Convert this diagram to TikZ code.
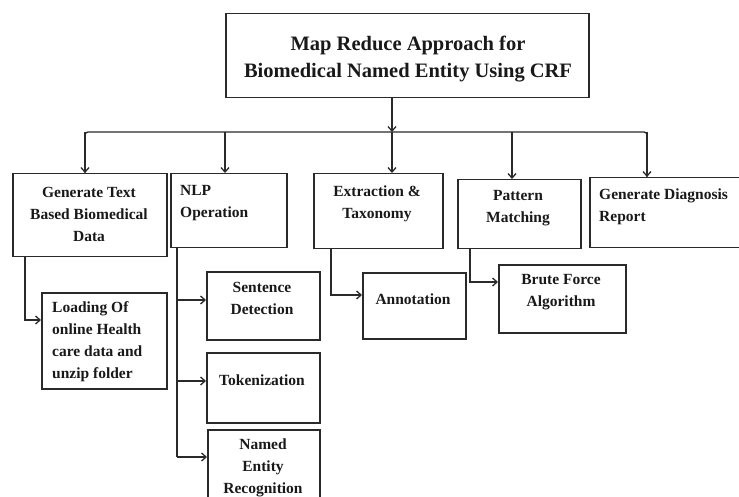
\documentclass[tikz,border=0pt]{standalone}
\usepackage{fontspec}
\setmainfont{Liberation Serif}
\usetikzlibrary{arrows.meta}
\definecolor{ln}{HTML}{2A2A2A}
\tikzset{
  box/.style={draw=ln, line width=1.5pt, rectangle, inner sep=0pt, anchor=north west},
  txt/.style={inner sep=0pt, text=black!90, font=\bfseries\fontsize{15.5}{22}\selectfont},
  ttl/.style={inner sep=0pt, text=black!90, font=\bfseries\fontsize{20.5}{27}\selectfont, align=center},
  arr/.style={draw=ln, line width=1.3pt, -{Straight Barb[length=4.5pt,width=8pt,line width=1.3pt]}},
  ln/.style={draw=ln, line width=1.3pt},
}
\newcommand{\bx}[5]{\node[box, minimum width=#4pt-#2pt, minimum height=#5pt-#3pt] (#1) at (#2,#3) {};}
\begin{document}
\begin{tikzpicture}[x=1pt,y=-1pt]
\useasboundingbox (0,0) rectangle (739,497);
% boxes
\bx{title}{225}{13}{588}{97}
\bx{gen}{12}{173}{166}{256}
\bx{nlp}{170}{173}{286}{247}
\bx{ext}{313}{173}{442}{248}
\bx{pat}{457}{179}{580}{248}
\bx{diag}{589}{177}{760}{247}
\bx{load}{41}{292}{166}{388}
\bx{sent}{206}{271}{319}{339}
\bx{tok}{206}{352}{319}{422}
\bx{ner}{207}{429}{319}{520}
\bx{ann}{362}{272}{465}{338}
\bx{brute}{498}{264}{625}{332}
% texts
\node[ttl] (title-t) at (408,59) {Map Reduce Approach for\\Biomedical Named Entity Using CRF};
\node[txt, align=center] (gen-t) at (89,214) {Generate Text\\Based Biomedical\\Data};
\node[txt, align=left, anchor=west] (nlp-t) at (180,203) {NLP\\Operation};
\node[txt, align=center] (ext-t) at (377,204) {Extraction \&\\Taxonomy};
\node[txt, align=center] (pat-t) at (518,208) {Pattern\\Matching};
\node[txt, align=left, anchor=west] (diag-t) at (599,207) {Generate Diagnosis\\Report};
\node[txt, align=left, anchor=west] (load-t) at (52,342) {Loading Of\\online Health\\care data and\\unzip folder};
\node[txt, align=center] (sent-t) at (262,298) {Sentence\\Detection};
\node[txt] (tok-t) at (262,380) {Tokenization};
\node[txt, align=center] (ner-t) at (263,468) {Named\\Entity\\Recognition};
\node[txt] (ann-t) at (413,299) {Annotation};
\node[txt, align=center] (brute-t) at (561,292) {Brute Force\\Algorithm};
% connectors
\coordinate (top) at (392,97);
\coordinate (barL) at (85,132);
\coordinate (barR) at (647,132);
\coordinate (barM) at (392,132);
\draw[arr] (top) -- (barM);
\draw[ln, rounded corners=3pt] ([yshift=-0.1pt]gen.north -| barL) -- (barL) -- (barR) -- (diag.north -| barR);
\draw[arr] (barL) -- (gen.north -| barL);
\draw[arr] (barM -| 225,0) -- (nlp.north -| 225,0);
\draw[arr] (barM) -- (ext.north -| barM);
\draw[arr] (barM -| 512,0) -- (pat.north -| 512,0);
\draw[arr] (barR) -- (diag.north -| barR);
% sub branches
\draw[arr] (gen.south -| 25,0) |- (load.west |- 0,320);
\draw[ln] (nlp.south -| 177,0) -- (177,457);
\draw[arr] (177,300) -- (sent.west |- 0,300);
\draw[arr] (177,381) -- (tok.west |- 0,381);
\draw[arr] (177,457) -- (ner.west |- 0,457);
\draw[arr] (ext.south -| 331,0) |- (ann.west |- 0,295);
\draw[arr] (pat.south -| 470,0) |- (brute.west |- 0,282);
\end{tikzpicture}
\end{document}
